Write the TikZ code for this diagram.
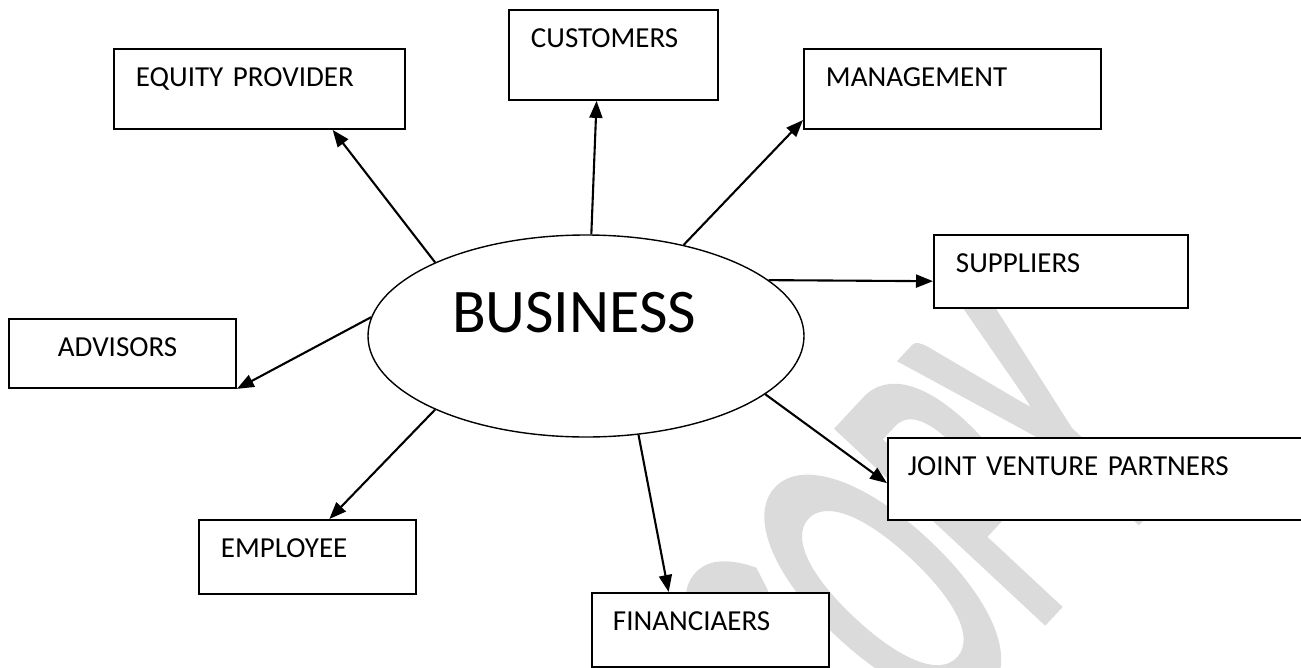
\documentclass[tikz,border=0pt]{standalone}
\usepackage{fontspec}
\setmainfont{Carlito}
\newfontfamily\stampfont[FakeBold=3]{Carlito}
\usepackage{tikz}
\usetikzlibrary{shapes.geometric, arrows.meta, calc}
\tikzstyle{stakeholder} = [rectangle, draw=black, fill=white, line width=1.9pt, anchor=north west, inner xsep=22pt, inner ysep=0pt, text height=38pt, align=left, font=\fontsize{29}{29}\selectfont]
\tikzstyle{hub} = [ellipse, draw=black, fill=white, line width=1.4pt, minimum width=436pt, minimum height=202pt, inner sep=0pt, text width=268pt, text depth=48pt, align=left, font=\fontsize{62}{62}\selectfont]
\tikzstyle{arrow} = [line width=2.1pt, -{Triangle[length=17pt, width=13pt]}]
\tikzstyle{stamp} = [text=black!14, inner sep=0pt, anchor=base west, font=\stampfont\fontsize{215}{215}\selectfont]

\begin{document}
\begin{tikzpicture}[x=1pt, y=-1pt]
	\useasboundingbox (0,0) rectangle (1301,667);
	\clip (0,0) rectangle (1301,667);
	% watermark goes first, the boxes cover it
	\node[stamp, rotate=47, yscale=2] (stamp) at (858,817) {COPY};

	\node[hub] (business) at (586,336) {BUSINESS};
	\node[stakeholder, text width=247pt, text depth=42pt] (equity) at (113,48) {EQUITY PROVIDER};
	\node[stakeholder, text width=165pt, text depth=52pt] (customers) at (508,9) {CUSTOMERS};
	\node[stakeholder, text width=253pt, text depth=42pt] (management) at (803,48) {MANAGEMENT};
	\node[stakeholder, text width=210pt, text depth=35pt] (suppliers) at (933,234) {SUPPLIERS};
	\node[stakeholder, inner xsep=49pt, text width=129pt, text depth=31pt] (advisors) at (8,318) {ADVISORS};
	\node[stakeholder, text width=173pt, text depth=36pt] (employee) at (198,519) {EMPLOYEE};
	\node[stakeholder, inner xsep=21pt, text width=195pt, text depth=36pt] (financiers) at (591,592) {FINANCIAERS};
	\node[stakeholder, inner xsep=20pt, text width=383pt, text depth=44pt] (joint_venture) at (887,437) {JOINT VENTURE PARTNERS};

	\draw[arrow] (business.154) -- ($(equity.south west)!0.75!(equity.south east)$);
	\draw[arrow] (business.87) -- ($(customers.south west)!0.42!(customers.south east)$);
	\draw[arrow] (business.43) -- ($(management.north west)!0.88!(management.south west)$);
	\draw[arrow] (business.17) -- ($(suppliers.north west)!0.63!(suppliers.south west)$);
	\draw[arrow] (business.175) -- (advisors.south east);
	\draw[arrow] (business.206) -- ($(employee.north west)!0.6!(employee.north east)$);
	\draw[arrow] (business.298) -- ($(financiers.north west)!0.325!(financiers.north east)$);
	\draw[arrow] (business.342) -- ($(joint_venture.north west)!0.55!(joint_venture.south west)$);
\end{tikzpicture}
\end{document}
